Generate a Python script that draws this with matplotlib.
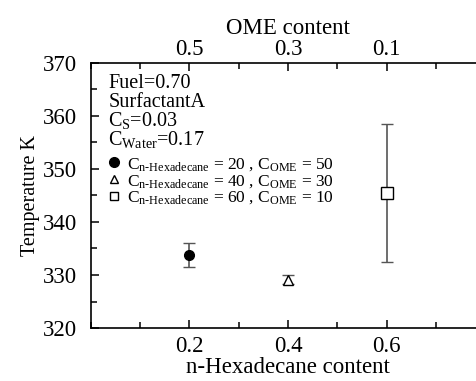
import matplotlib.pyplot as plt
from matplotlib.lines import Line2D
from matplotlib.ticker import MultipleLocator

plt.rcParams['font.family'] = ['Liberation Serif', 'DejaVu Serif']
plt.rcParams['mathtext.fontset'] = 'custom'
plt.rcParams['mathtext.rm'] = 'Liberation Serif'
plt.rcParams['mathtext.it'] = 'Liberation Serif'

# data
hexadecane = [0.2, 0.4, 0.6]
temperature = [333.8, 329.1, 345.4]
temp_err = [2.2, 0.85, 13.0]
markers = ['o', '^', 's']
facecolors = ['black', 'white', 'white']
ome_labels = ['0.5', '0.3', '0.1']
legend_labels = [
    r'C$_{\mathrm{n\text{-}Hexadecane}}$ = 20 , C$_{\mathrm{OME}}$ = 50',
    r'C$_{\mathrm{n\text{-}Hexadecane}}$ = 40 , C$_{\mathrm{OME}}$ = 30',
    r'C$_{\mathrm{n\text{-}Hexadecane}}$ = 60 , C$_{\mathrm{OME}}$ = 10',
]
info_lines = ['Fuel=0.70', 'SurfactantA', r'C$_{\mathrm{S}}$=0.03', r'C$_{\mathrm{Water}}$=0.17']

fig = plt.figure(figsize=(4.76, 3.81), dpi=100)
ax = fig.add_axes([0.191, 0.139, 0.828, 0.696])

for x, y, e, m, fc in zip(hexadecane, temperature, temp_err, markers, facecolors):
    ax.errorbar(x, y, yerr=e, fmt=m, color='#333333', ecolor='#555555', elinewidth=1.2,
                capsize=4, capthick=1.2, markersize=7 if m != 's' else 8,
                markerfacecolor=fc, markeredgecolor='black', markeredgewidth=1.0)

ax.set_xlim(0, 0.8)
ax.set_ylim(320, 370)
ax.set_xticks([0.2, 0.4, 0.6])
ax.xaxis.set_minor_locator(MultipleLocator(0.1))
ax.yaxis.set_major_locator(MultipleLocator(10))
ax.yaxis.set_minor_locator(MultipleLocator(5))
ax.tick_params(which='both', direction='in', labelsize=16.5, width=1.1)
ax.tick_params(axis='x', which='both', bottom=True, top=False, pad=6)
ax.tick_params(axis='y', pad=10)
ax.tick_params(which='major', length=6)
ax.tick_params(which='minor', length=4)
ax.spines['right'].set_visible(False)
for s in ['left', 'bottom', 'top']:
    ax.spines[s].set_linewidth(1.2)
ax.set_xlabel('n-Hexadecane content', fontsize=16.5, labelpad=0)
ax.set_ylabel('Temperature K', fontsize=14.5, labelpad=2)

top = ax.twiny()
top.set_xlim(ax.get_xlim())
top.set_xticks(hexadecane)
top.set_xticklabels(ome_labels)
top.xaxis.set_minor_locator(MultipleLocator(0.1))
top.tick_params(which='both', direction='in', labelsize=16.5, width=1.1, pad=2)
top.tick_params(which='major', length=6)
top.tick_params(which='minor', length=4)
top.set_xlabel('OME content', fontsize=16.5, labelpad=4)
for s in top.spines.values():
    s.set_visible(False)

for i, line in enumerate(info_lines):
    ax.text(0.044, 0.906 - i * 0.0717, line, transform=ax.transAxes,
            fontsize=14.5, va='baseline', ha='left')

handles = [Line2D([], [], linestyle='none', marker=m, markersize=6 if m != 'o' else 7,
                  markerfacecolor=fc, markeredgecolor='black', markeredgewidth=1.0)
           for m, fc in zip(markers, facecolors)]
ax.legend(handles, legend_labels, loc='upper left', bbox_to_anchor=(0.02, 0.675),
          frameon=False, fontsize=12.5, handlelength=0.9, handletextpad=0.35,
          labelspacing=0.0, borderaxespad=0)

fig.savefig('out.png', dpi=100)
